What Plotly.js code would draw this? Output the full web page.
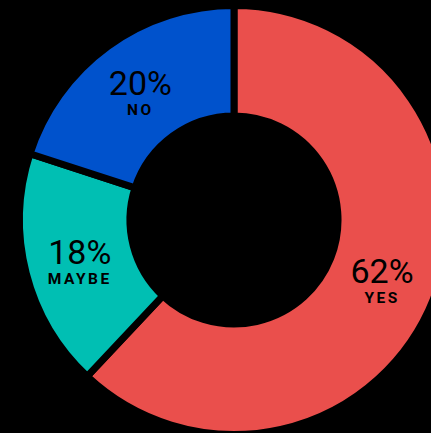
<!DOCTYPE html>
<html>
<head>
<meta charset="utf-8">
<script src="https://cdn.plot.ly/plotly-3.0.1.min.js"></script>
<style>
  html, body { margin: 0; padding: 0; background: #000; overflow: hidden; }
  #chart { width: 468px; height: 440px; }
</style>
</head>
<body>
<div id="chart"></div>
<script>
const labels = ["YES", "MAYBE", "NO"];
const values = [62, 18, 20];
const colors = ["#EA4F4C", "#00BFB3", "#0052CC"];

const trace = {
  type: "pie",
  labels: labels,
  values: values,
  hole: 0.485,
  sort: false,
  direction: "clockwise",
  rotation: 0,
  marker: { colors: colors, line: { color: "#000000", width: 7 } },
  textposition: "inside",
  insidetextorientation: "horizontal",
  texttemplate: '<span style="font-size:34px">%{percent}</span><br><span style="font-weight:bold;letter-spacing:2.5px">%{label}</span>',
  textfont: { family: "Roboto, 'Noto Sans', sans-serif", size: 15.5, color: "#000000" },
  hoverinfo: "none",
  domain: { x: [0.0417, 0.9583], y: [0.0125, 0.9875] }
};

const layout = {
  width: 468,
  height: 440,
  margin: { l: 0, r: 0, t: 0, b: 0, pad: 0 },
  paper_bgcolor: "#000000",
  plot_bgcolor: "#000000",
  showlegend: false
};

Plotly.newPlot("chart", [trace], layout, { staticPlot: true, displayModeBar: false });
</script>
</body>
</html>
